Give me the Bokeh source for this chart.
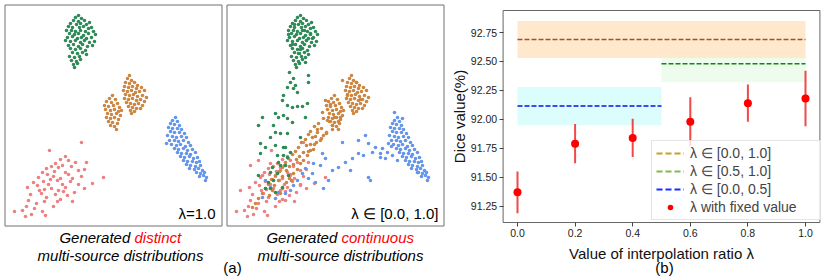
import math
from bokeh.plotting import figure
from bokeh.models import (Range1d, FixedTicker, PrintfTickFormatter, Legend, LegendItem, LinearAxis)
from bokeh.core.properties import value
from bokeh.embed import file_html
from bokeh.resources import INLINE

FONT = "Liberation Sans"

# ---------------- panel (b) data ----------------
lam = [0.0, 0.2, 0.4, 0.6, 0.8, 1.0]
dice = [91.37, 91.79, 91.84, 91.98, 92.14, 92.18]
dice_err = [0.18, 0.17, 0.165, 0.21, 0.16, 0.24]

band_labels = ["λ ∈ [0.0, 1.0]", "λ ∈ [0.5, 1.0]", "λ ∈ [0.0, 0.5]"]
band_x0 = [0.0, 0.5, 0.0]
band_x1 = [1.0, 1.0, 0.5]
band_mean = [92.69, 92.48, 92.115]
band_err = [0.16, 0.16, 0.165]

x_ticks = [0.0, 0.2, 0.4, 0.6, 0.8, 1.0]
y_ticks = [91.25, 91.50, 91.75, 92.00, 92.25, 92.50, 92.75]
b_xlim = (-0.05, 1.05)
b_ylim = (91.109, 92.94)

# ---------------- panel (a) data (2-D embedding, pixel-like units, y down) ----------------
green_core = [(78,15),(75,17),(81,18),(73,20),(78,21),(84,20),(70,23),(76,24),(80,23),(86,24),(89,22),
    (68,26),(72,27),(79,27),(83,26),(88,28),(91,27),(66,30),(71,30),(75,31),(80,30),(85,31),(93,31),
    (69,33),(74,34),(78,33),(83,35),(88,33),(95,34),(67,37),(72,36),(77,38),(81,37),(86,38),(91,37),
    (65,40),(70,41),(75,40),(80,42),(84,40),(89,42),(94,41),(68,45),(73,44),(78,46),(82,44),(87,46),(92,45),
    (70,48),(75,49),(80,48),(85,50),(72,52),(77,53),(82,52),(86,54),(69,56),(74,57),(79,56),(71,60),
    (76,61),(80,59),(73,64),(77,63),(74,67)]
orange_core = [(112,95),(109,98),(115,99),(106,101),(111,102),(117,103),(104,105),(108,106),(113,105),(119,107),
    (105,109),(110,110),(114,109),(118,111),(121,110),(107,113),(111,114),(116,113),(120,115),
    (106,117),(110,118),(114,117),(118,119),(108,121),(112,122),(117,123),(110,125),(114,126),(116,129),
    (129,75),(127,78),(131,80),(125,82),(129,83),(134,82),(137,85),(124,86),(128,87),(132,86),(136,88),(141,87),
    (123,90),(127,91),(131,90),(135,92),(139,91),(144,90),(125,94),(129,95),(133,94),(137,96),(142,95),(146,97),
    (124,98),(128,99),(132,98),(136,100),(140,99),(144,101),(126,102),(130,103),(134,104),(138,103),(142,105),
    (128,106),(132,107),(136,108),(140,108),(130,110),(134,111),(131,113)]
blue_core = [(175,117),(172,120),(177,121),(170,123),(174,124),(179,125),(168,127),(172,128),(177,128),(181,129),
    (170,131),(174,132),(179,132),(184,133),(167,135),(172,136),(176,137),(181,136),(186,137),
    (169,140),(174,140),(178,141),(183,140),(188,142),(166,143),(171,144),(176,145),(180,144),(185,146),(190,145),
    (174,148),(178,149),(183,148),(187,150),(192,149),(177,152),(181,153),(186,153),(190,154),(195,152),
    (180,156),(184,157),(189,156),(193,158),(197,157),(183,160),(187,161),(192,161),(196,162),(199,161),
    (186,164),(190,165),(195,166),(200,165),(189,168),(194,169),(198,168),(202,170),(196,172),(200,173),(204,172),
    (199,176),(203,175),(206,177),(205,180)]
pink_core = [(81,142),(49,150),(60,159),(65,156),(55,163),(51,166),(62,165),(68,160),(46,168),(42,172),
    (54,171),(58,167),(65,172),(71,166),(75,162),(78,170),(86,162),(84,169),(38,177),(47,174),(53,176),
    (60,178),(68,174),(72,178),(81,176),(33,182),(43,181),(48,184),(57,180),(62,184),(70,181),(78,184),
    (92,183),(103,177),(27,187),(37,185),(44,189),(51,188),(58,190),(65,187),(74,192),(84,188),(30,194),
    (41,193),(46,197),(55,194),(60,199),(72,201),(28,200),(36,203),(44,201),(53,206),(57,201),(26,206),
    (34,208),(42,211),(14,211),(22,210),(25,216),(45,215),(31,214),(67,195),(39,190),(50,179),(63,191)]

green_extra = [(72,24),(82,30),(88,34),(70,44),(78,49),(83,57),(76,53),(90,38),(66,34),(84,40),
    (83,62),(67,72),(86,75),(71,78),(68,82),(86,82),(73,85),(65,87),(71,88),(75,92),(61,95),(60,100),
    (65,105),(70,107),(75,106),(80,106),(85,103),(53,113),(61,115),(65,118),(56,117),(70,122),(83,117),
    (51,125),(53,132),(58,133),(65,133),(48,137),(78,137),(36,125),(40,117),(61,147),(68,152),(65,157),
    (50,167),(58,165),(36,175),(55,173),(46,182),(60,187),(43,188),(38,143),(43,147),(53,145),(63,147),
    (38,153),(55,155),(61,155),(56,162),(63,165),(48,172),(51,180),(48,188),(53,192),(66,175)]
orange_extra = [(120,80),(134,82),(125,95),(138,99),(108,104),(112,117),(105,120),(100,112),(103,100),
    (101,118),(96,123),(107,121),(92,126),(99,128),(110,125),(88,131),(95,129),(104,133),(86,134),(93,136),
    (101,135),(83,139),(90,137),(98,140),(79,142),(88,144),(94,142),(76,147),(84,145),(91,149),(73,151),
    (81,152),(88,150),(70,154),(77,156),(85,155),(66,158),(74,159),(81,160),(63,162),(71,164),(78,163),
    (60,167),(67,166),(75,169),(57,171),(64,170),(71,173),(53,175),(60,176),(67,178),(49,179),(56,180),
    (64,182),(46,184),(52,185),(60,188),(43,188),(50,190),(40,193),(47,195),(36,198),(33,203),(30,207),
    (116,121),(110,129),(104,132),(99,138),(92,144),(86,151),(118,117),(95,132),(69,180),(58,193)]
blue_extra = [(143,135),(136,140),(120,142),(146,143),(153,147),(150,152),(141,155),(136,153),(130,158),
    (123,162),(158,157),(116,167),(128,170),(146,177),(148,180),(110,170),(106,180),(101,188),(100,153),
    (103,158),(98,165),(91,163),(90,173),(86,178),(93,182),(83,168),(80,173),(75,180),(71,185),(68,190),
    (63,193),(56,192),(53,198),(48,187),(40,197),(43,180),(195,172),(160,148),(165,152),(170,155),
    (163,158),(175,160),(158,153),(172,112),(180,118),(169,146)]
pink_extra = [(28,165),(36,160),(48,163),(58,170),(68,175),(40,175),(18,190),(78,185),(63,200)]

GREEN, ORANGE, BLUE, PINK = "#2e8b57", "#cd853f", "#6495ed", "#f08080"
P1_DX, P2_DX = 0, 222  # horizontal placement of the two (a) sub-panels

# ---------------- one canvas, pixel-like main ranges; panel (b) on its own ranges ----------------
W, H = 826, 276
p = figure(width=W, height=H, x_range=Range1d(0, W), y_range=Range1d(H, 0),
           output_backend="svg", toolbar_location=None, title=None,
           x_axis_location=None, y_axis_location=None, min_border=0)
p.xgrid.visible = False
p.ygrid.visible = False
p.outline_line_color = None

# panel (b) plotting area: x=0 at 517 px, 288 px per unit; y=92.75 at 32 px, 115.8 px per unit
BX0, BXS = 517.0, 288.0
BY0, BYS = 32.0, 115.8
p.extra_x_ranges = {"bx": Range1d(-BX0 / BXS, (W - BX0) / BXS)}
p.extra_y_ranges = {"by": Range1d(92.75 - (H - BY0) / BYS, 92.75 + BY0 / BYS)}
B = dict(x_range_name="bx", y_range_name="by")

# ----- panel (a) -----
p.quad(left=[4.5, 226.5], right=[221.5, 443.5], top=[4.5, 4.5], bottom=[225.5, 225.5],
       fill_color=None, line_color="#707070", line_width=1)

def draw(pts, dx, color):
    p.scatter([x + dx for x, _ in pts], [y for _, y in pts], size=3.6,
              fill_color=color, line_color=None)

draw(pink_core, P1_DX, PINK)
draw(orange_core, P1_DX, ORANGE)
draw(blue_core, P1_DX, BLUE)
draw(green_core, P1_DX, GREEN)

draw(pink_core, P2_DX, PINK)
draw(pink_extra, P2_DX, PINK)
draw(blue_core, P2_DX, BLUE)
draw(blue_extra, P2_DX, BLUE)
draw(orange_core, P2_DX, ORANGE)
draw(orange_extra, P2_DX, ORANGE)
draw(green_core, P2_DX, GREEN)
draw(green_extra, P2_DX, GREEN)

def txt(x, y, s, color="black", align="center", style="normal", size="15px", angle=0.0):
    p.text(x=[x], y=[y], text=[s], text_align=align, text_baseline="middle", angle=angle,
           text_color=color, text_font=value(FONT), text_font_style=style,
           text_font_size=size)

txt(215, 213, "λ=1.0", align="right")
txt(438, 213, "λ ∈ [0.0, 1.0]", align="right")
txt(129.8, 237, "Generated", align="right", style="italic")
txt(134, 237, "distinct", color="red", align="left", style="italic")
txt(120, 254.5, "multi-source distributions", style="italic")
txt(336.8, 237, "Generated", align="right", style="italic")
txt(341, 237, "continuous", color="red", align="left", style="italic")
txt(340, 254.5, "multi-source distributions", style="italic")
txt(232, 267, "(a)")

# ----- panel (b) -----
band_fill = ["#ffe8cc", "#eefcee", "#dbfdfc"]
band_line = ["#a0522d", "#118811", "#1010ee"]
legend_line = ["#c8a020", "#7cbb4c", "#1030ff"]
order = [2, 1, 0]
for i in order:
    p.quad(left=[band_x0[i]], right=[band_x1[i]],
           bottom=[band_mean[i] - band_err[i]], top=[band_mean[i] + band_err[i]],
           fill_color=band_fill[i], line_color=None, **B)
for i in order:
    p.line([band_x0[i], band_x1[i]], [band_mean[i], band_mean[i]],
           line_color=band_line[i], line_dash="5 2", line_width=1.5, **B)

p.segment(x0=lam, x1=lam, y0=[d - e for d, e in zip(dice, dice_err)],
          y1=[d + e for d, e in zip(dice, dice_err)], line_color="#f02828", line_alpha=0.85,
          line_width=2, **B)
pts = p.scatter(lam, dice, size=8, fill_color="red", line_color=None, **B)

# axes box (spines at the axis limits)
p.quad(left=[b_xlim[0]], right=[b_xlim[1]], bottom=[b_ylim[0]], top=[b_ylim[1]],
       fill_color=None, line_color="#666666", line_width=1, **B)

items = []
for i in range(3):
    r = p.line([math.nan], [math.nan], line_color=legend_line[i], line_dash="6 3", line_width=2, **B)
    items.append(LegendItem(label=band_labels[i], renderers=[r]))
items.append(LegendItem(label="λ with fixed value", renderers=[pts]))
leg = Legend(items=items, location=(651, 56), margin=0, padding=4, spacing=2,
             glyph_width=28, glyph_height=14, label_height=14, label_standoff=6,
             label_width=126,
             label_text_font=FONT, label_text_font_size="14px",
             border_line_color="#cccccc", background_fill_alpha=0.8)
p.add_layout(leg)

xaxis = LinearAxis(fixed_location=b_ylim[0], ticker=FixedTicker(ticks=x_ticks),
                   formatter=PrintfTickFormatter(format="%.1f"), **B)
yaxis = LinearAxis(fixed_location=b_xlim[0], ticker=FixedTicker(ticks=y_ticks),
                   formatter=PrintfTickFormatter(format="%.2f"), **B)
for ax in (xaxis, yaxis):
    ax.minor_tick_line_color = None
    ax.axis_line_color = None
    ax.major_tick_line_color = "#444444"
    ax.major_tick_in = 0
    ax.major_tick_out = 4
    ax.major_label_standoff = 2
    ax.major_label_text_font = FONT
    ax.major_label_text_font_size = "10.5px"
    ax.major_label_text_color = "#222222"
p.add_layout(xaxis, "below")
p.add_layout(yaxis, "left")

txt(661, 253, "Value of interpolation ratio λ", color="#111111")
txt(459, 116, "Dice value(%)", color="#111111", angle=math.pi / 2)
txt(664, 266.5, "(b)")

open("out.html", "w").write(file_html(p, INLINE))
